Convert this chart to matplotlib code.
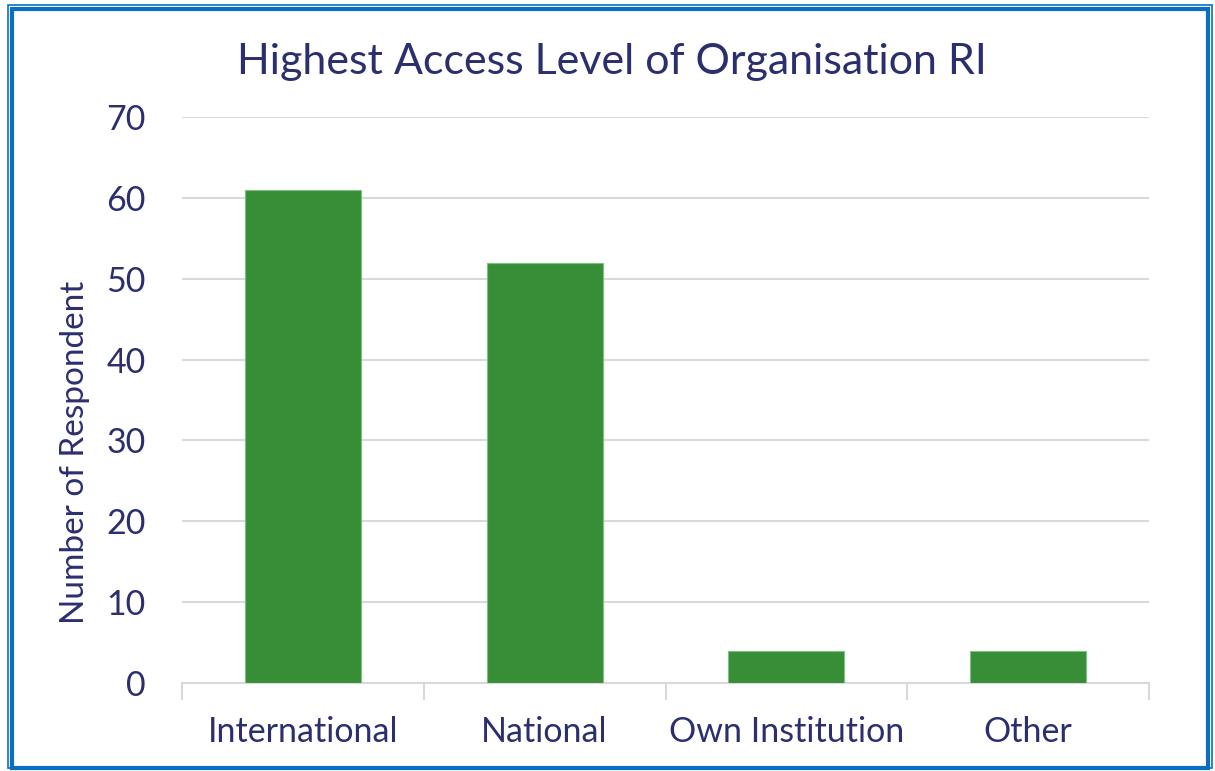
import matplotlib.pyplot as plt
from matplotlib.patches import Rectangle
import numpy as np

categories = ['International', 'National', 'Own Institution', 'Other']
counts = [61, 52, 4, 4]

navy = '#2B2F6E'
green = '#388E37'
grid_gray = '#D9D9D9'

plt.rcParams['font.family'] = ['Lato', 'DejaVu Sans']

fig = plt.figure(figsize=(12.15, 7.71), dpi=100)
ax = fig.add_axes([182 / 1215, 88 / 771, 967 / 1215, 566 / 771])

x = np.arange(len(categories))
ax.bar(x, counts, width=0.48, color=green, edgecolor='#7FBF7F', linewidth=0.8, zorder=3)

ax.set_xlim(-0.5, len(categories) - 0.5)
ax.set_ylim(0, 70)
ax.set_yticks(range(0, 71, 10))
ax.yaxis.grid(True, color=grid_gray, linewidth=1.5, zorder=0)
ax.set_axisbelow(True)

# category labels centred, tick marks at the boundaries
ax.set_xticks(x)
ax.set_xticklabels(categories)
ax.set_xticks(np.arange(-0.5, len(categories), 1.0), minor=True)
ax.tick_params(axis='x', which='major', length=0, pad=24, labelsize=24.5, labelcolor=navy)
ax.tick_params(axis='x', which='minor', length=12, width=1.5, color=grid_gray)
ax.tick_params(axis='y', length=0, pad=26, labelsize=24.5, labelcolor=navy)

for s in ['top', 'right', 'left']:
    ax.spines[s].set_visible(False)
ax.spines['bottom'].set_color(grid_gray)
ax.spines['bottom'].set_linewidth(1.5)

ax.set_ylabel('Number of Respondent', fontsize=24, color=navy)
ax.yaxis.set_label_coords(-0.095, 0.408)
fig.text(612 / 1215, 1 - 62 / 771, 'Highest Access Level of Organisation RI',
         ha='center', va='center', fontsize=31, color=navy)

# blue frame around the chart
fig.patches.append(Rectangle((8 / 1215, 3 / 771), 1204 / 1215, 763 / 771, transform=fig.transFigure,
                             fill=False, edgecolor='#0A6FC2', linewidth=1.2))
fig.patches.append(Rectangle((11.5 / 1215, 3.5 / 771), 1196 / 1215, 759 / 771, transform=fig.transFigure,
                             fill=False, edgecolor='#0A6FC2', linewidth=3))

fig.savefig('out.png', dpi=100)
